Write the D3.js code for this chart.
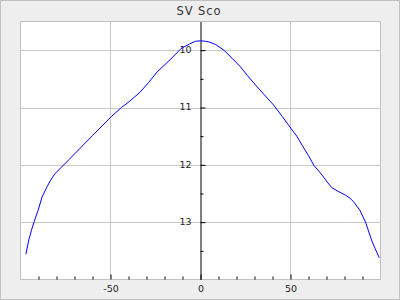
<!DOCTYPE html>
<html>
<head>
<meta charset="utf-8">
<script src="https://cdn.jsdelivr.net/npm/d3@7"></script>
<style>
  body { margin: 0; background: #fff; }
  svg { display: block; font-family: "DejaVu Sans", sans-serif; }
</style>
</head>
<body>
<div id="chart"></div>
<script>
// light curve values
const phase = [-97.0, -95.4, -93.9, -92.4, -90.2, -88.0, -85.2, -83.3, -81.0, -73.1, -60.0,
  -49.6, -43.9, -39.3, -33.5, -28.7, -24.1, -17.0, -10.7, -6.0, -2.8, 0, 2.8, 5.0, 8.3, 13.0,
  17.5, 22.2, 26.0, 30.6, 35.5, 40.7, 45.5, 50.4, 53.5, 56.5, 60.0, 63.0, 67.6, 70.4, 73.0,
  76.9, 80.6, 83.0, 85.2, 88.5, 91.7, 95.0, 97.0, 99.3]
const mag = [13.56, 13.31, 13.14, 12.99, 12.79, 12.56, 12.38, 12.27, 12.16, 11.91, 11.49,
  11.16, 11.00, 10.89, 10.73, 10.56, 10.38, 10.17, 9.97, 9.89, 9.845, 9.837, 9.845, 9.86, 9.90, 10.00,
  10.14, 10.29, 10.44, 10.61, 10.78, 10.96, 11.16, 11.37, 11.50, 11.66, 11.84, 12.01, 12.18, 12.30, 12.40,
  12.47, 12.53, 12.58, 12.65, 12.79, 13.00, 13.31, 13.46, 13.62]

const title = 'SV Sco'
const xTicks = [-50, 0, 50]
const xTickLabels = ['-50', '0', '50']
const xMinor = [-90, -80, -70, -60, -40, -30, -20, -10, 10, 20, 30, 40, 60, 70, 80, 90]
const yTicks = [10, 11, 12, 13]
const yMinor = [10.5, 11.5, 12.5, 13.5]

const W = 400, H = 300
const plot = { left: 20.5, top: 21.5, right: 380.5, bottom: 279.5 }

const svg = d3.select('#chart')
  .append('svg')
  .attr('width', W)
  .attr('height', H)

// outer frame
svg.append('rect')
  .attr('x', 0.5).attr('y', 0.5)
  .attr('width', W - 1).attr('height', H - 1)
  .attr('fill', '#eeeeee')
  .attr('stroke', '#c0c0c0')

svg.append('text')
  .attr('x', 199)
  .attr('y', 15)
  .attr('text-anchor', 'middle')
  .style('font-size', '11.5px')
  .style('letter-spacing', '0.9px')
  .attr('fill', '#333')
  .text(title)

const x = d3.scaleLinear().domain([-100, 100]).range([plot.left, plot.right])
const y = d3.scaleLinear().domain([9.5, 14]).range([plot.top, plot.bottom])

// plot area
svg.append('rect')
  .attr('x', plot.left).attr('y', plot.top)
  .attr('width', plot.right - plot.left).attr('height', plot.bottom - plot.top)
  .attr('fill', '#fff')
  .attr('stroke', '#c0c0c0')

// grid
svg.append('g')
  .selectAll('line')
  .data(yTicks)
  .join('line')
  .attr('x1', plot.left).attr('x2', plot.right)
  .attr('y1', d => Math.round(y(d)) + 0.5).attr('y2', d => Math.round(y(d)) + 0.5)
  .attr('stroke', '#c8c8c8')

svg.append('g')
  .selectAll('line')
  .data(xTicks.filter(d => d !== 0))
  .join('line')
  .attr('x1', d => x(d)).attr('x2', d => x(d))
  .attr('y1', plot.top).attr('y2', plot.bottom)
  .attr('stroke', '#c8c8c8')

// x axis: ticks pointing up from the bottom edge
const xAxis = svg.append('g')
  .attr('transform', 'translate(0,' + plot.bottom + ')')
  .call(d3.axisBottom(x).tickValues(xTicks).tickSize(-5).tickPadding(6)
    .tickFormat((d, i) => xTickLabels[i]))
xAxis.select('.domain').remove()

const xAxisMinor = svg.append('g')
  .attr('transform', 'translate(0,' + plot.bottom + ')')
  .call(d3.axisBottom(x).tickValues(xMinor).tickSize(-3).tickFormat(''))
xAxisMinor.select('.domain').remove()

// y axis on x = 0, labels to its left
const yAxis = svg.append('g')
  .attr('transform', 'translate(' + x(0) + ',0)')
  .call(d3.axisLeft(y).tickValues(yTicks).tickSize(-5).tickSizeOuter(0).tickPadding(9)
    .tickFormat(d3.format('d')))
yAxis.selectAll('.tick text').attr('dy', '0.25em')

const yAxisMinor = svg.append('g')
  .attr('transform', 'translate(' + x(0) + ',0)')
  .call(d3.axisLeft(y).tickValues(yMinor).tickSize(-3).tickFormat(''))
yAxisMinor.select('.domain').remove()

svg.selectAll('.tick text')
  .style('font-family', '"DejaVu Sans", sans-serif')
  .style('font-size', '9.5px')
  .attr('fill', '#222')

// light curve
const line = d3.line()
  .x((d, i) => x(phase[i]))
  .y(d => y(d))

svg.append('path')
  .datum(mag)
  .attr('d', line)
  .attr('fill', 'none')
  .attr('stroke', '#0000ff')
  .attr('stroke-width', 1)
</script>
</body>
</html>
